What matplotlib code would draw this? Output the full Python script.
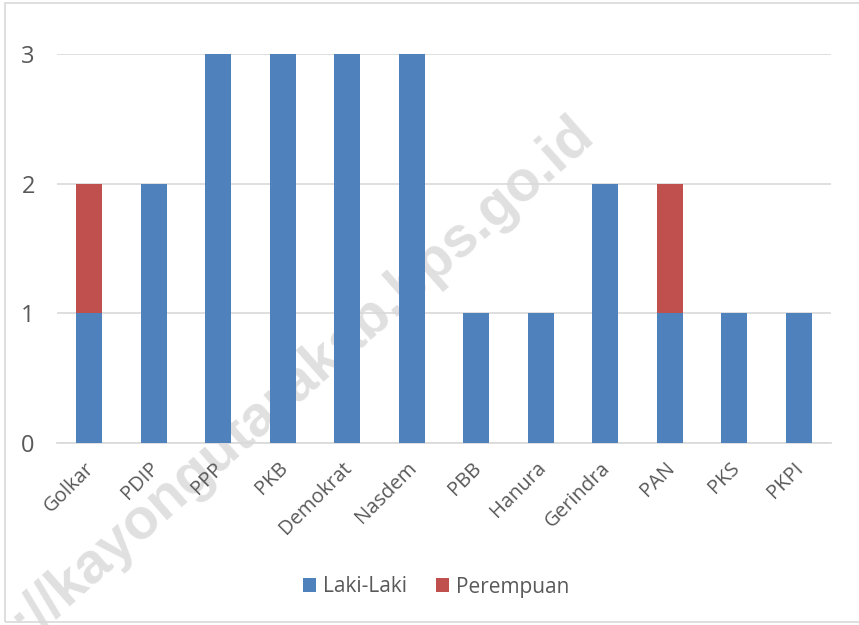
import matplotlib.pyplot as plt
import matplotlib.transforms as mtrans
import numpy as np

plt.rcParams['font.family'] = ['Open Sans', 'DejaVu Sans']

partai = ['Golkar', 'PDIP', 'PPP', 'PKB', 'Demokrat', 'Nasdem',
          'PBB', 'Hanura', 'Gerindra', 'PAN', 'PKS', 'PKPI']
laki = [1, 2, 3, 3, 3, 3, 1, 1, 2, 1, 1, 1]
perempuan = [1, 0, 0, 0, 0, 0, 0, 0, 0, 1, 0, 0]

biru, merah = '#4F81BD', '#C0504D'
abu = '#595959'

fig = plt.figure(figsize=(8.59, 6.25), dpi=100)
ax = fig.add_axes([57 / 859, 1 - 443 / 625, 774 / 859, 389 / 625])

x = np.arange(len(partai))
ax.bar(x, laki, width=0.4, color=biru, label='Laki-Laki', zorder=3)
ax.bar(x, perempuan, width=0.4, bottom=laki, color=merah, label='Perempuan', zorder=3)

ax.set_xlim(-0.5, len(partai) - 0.5)
ax.set_ylim(0, 3)
ax.set_yticks([0, 1, 2, 3])
ax.yaxis.grid(True, color='#d9d9d9', linewidth=1.2)
for s in ['top', 'right', 'left']:
    ax.spines[s].set_visible(False)
ax.spines['bottom'].set_color('#d9d9d9')
ax.spines['bottom'].set_linewidth(1.2)
ax.tick_params(length=0)
ax.tick_params(axis='y', labelsize=17, labelcolor=abu, pad=16)
ax.set_xticks(x)
ax.set_xticklabels(partai, rotation=45, ha='right', rotation_mode='anchor',
                   fontsize=14.5, color=abu)
ax.tick_params(axis='x', pad=11)
geser = mtrans.ScaledTranslation(-5 / 100, 0, fig.dpi_scale_trans)
for lbl in ax.get_xticklabels():
    lbl.set_transform(lbl.get_transform() + geser)
# label sumbu di atas watermark
ax.xaxis.set_zorder(2.5)
ax.yaxis.set_zorder(2.5)

leg = fig.legend(loc='center', bbox_to_anchor=(436 / 859, 1 - 587 / 625), ncol=2,
                 frameon=False, fontsize=15, handlelength=0.65, handleheight=0.65,
                 columnspacing=1.4, handletextpad=0.3)
for t in leg.get_texts():
    t.set_color(abu)

# bingkai chart
fig.patches.append(plt.Rectangle((5 / 859, 3 / 625), 1.2, 619 / 625,
                                 transform=fig.transFigure, fill=False,
                                 edgecolor='#d9d9d9', linewidth=1.2))

# watermark, di belakang batang
ax.text(250 / 859, 1 - 424 / 625, 'https://kayongutarakab.bps.go.id',
        transform=fig.transFigure, rotation=41.5, fontsize=41, fontweight='bold',
        family='Liberation Sans', color='#e0e0e0', ha='center', va='center',
        zorder=2, clip_on=False)

fig.savefig('out.png', dpi=100)
